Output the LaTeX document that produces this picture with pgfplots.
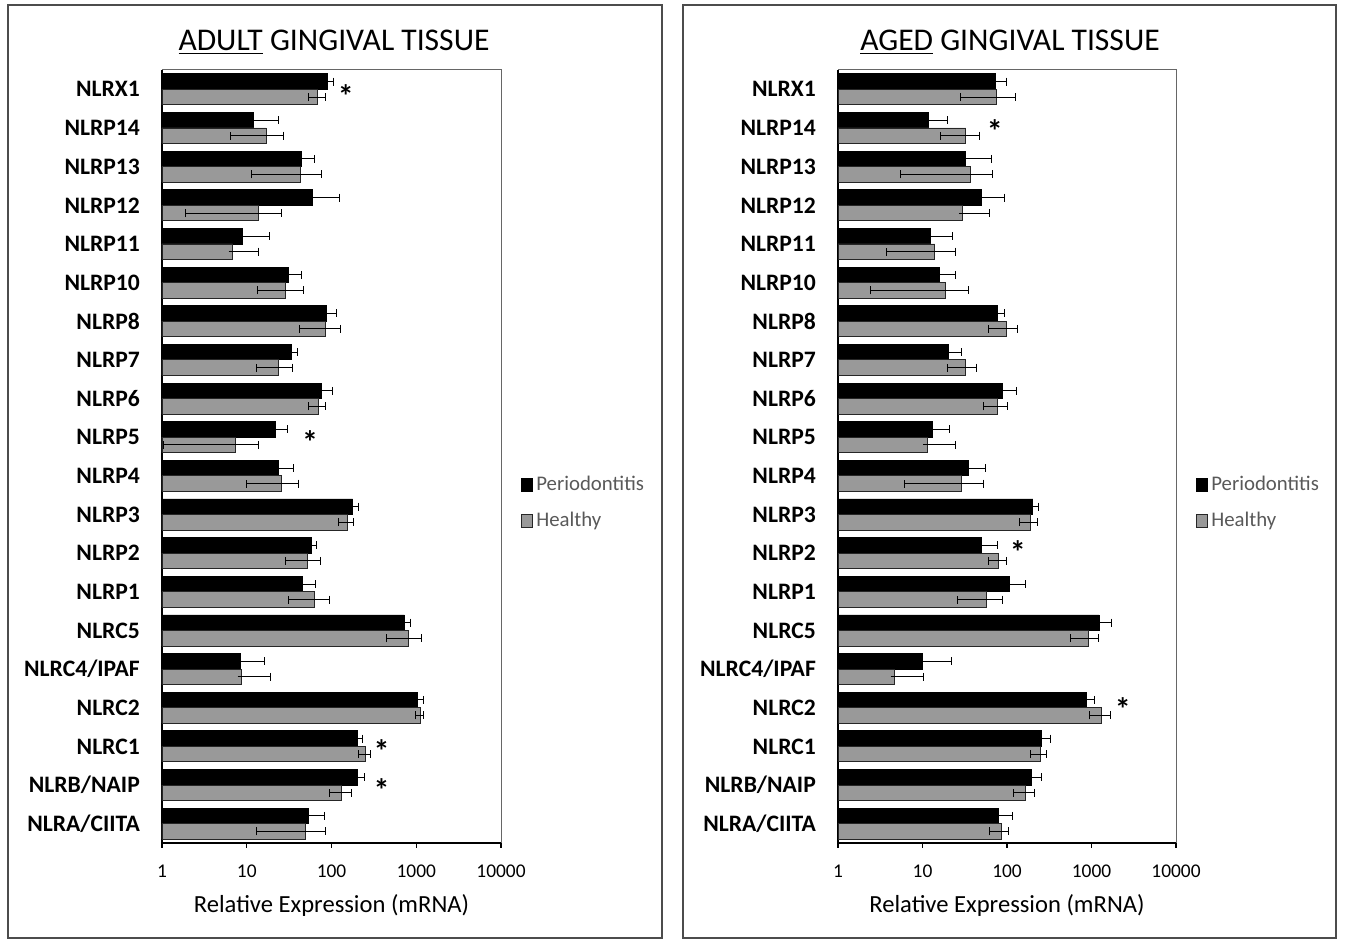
\documentclass[border=0pt]{standalone}
\usepackage{fontspec}
\setmainfont{Carlito}
\usepackage{pgfplots}
\usepackage{pgfplotstable}
\pgfplotsset{compat=1.18}

% idx 0 = NLRA/CIITA (bottom) ... 19 = NLRX1 (top)
\pgfplotstableread{
idx P Pe H Hp Hm
0 54 28 49 37 36
1 203 42 131 42 37
2 203 28 250 41 44
3 1035 198 1110 123 122
4 8.5 7.6 8.7 10.5 0
5 722 127 802 362 354
6 44.8 20 62 32 31
7 58.6 8.7 52 22 23
8 177 33 154 27 32
9 23.6 12.3 25.4 15.9 15.4
10 22 8.5 7.4 6.4 6.35
11 76.5 27 69.7 15.3 16.4
12 33.5 5.9 23.6 11.5 10.7
13 87 27 85 43 43
14 30.9 12.9 28.8 17.6 15.4
15 8.9 9.6 6.8 7 0
16 60 65 13.8 12.2 11.9
17 43.8 20 43 32.7 31.5
18 12 11.4 16.9 10 10.5
19 90 16 69 15 16
}\adult

\pgfplotstableread{
idx P Pe H Hp Hm
0 79.2 37 85 18.6 23
1 195 60 165 44 46
2 258 68 246 51 56
3 879 220 1324 368 370
4 10 11.9 4.68 5.5 0
5 1234 500 910 310 353
6 107 58 57.7 31.3 31.9
7 50.2 26.2 80 18.9 20.2
8 202 36 188 44 46
9 35.3 21.1 29 23 22.8
10 13.1 7.5 11.4 13.5 0
11 87.9 40 77.3 22.7 25.3
12 20.4 8.9 32.2 11.9 12.3
13 77.3 15.9 98.9 35 38.4
14 16 8.6 18.6 16.7 16.2
15 12.3 10.1 14 10.6 10.3
16 50.2 44 30 31.9 0
17 31.8 34.6 36.6 31.4 31.1
18 11.8 8.1 32.6 15.3 16.1
19 72 27 74.7 50 46.7
}\aged

\definecolor{hgray}{RGB}{153,153,153}

\begin{document}
\begin{tikzpicture}
\useasboundingbox[fill=white] (0,0) rectangle (672.5pt,-470.5pt);
\draw[line width=0.8pt, black!70] (4pt,-2.5pt) rectangle (331pt,-469pt);
\draw[line width=0.8pt, black!70] (341.5pt,-2.5pt) rectangle (668pt,-469pt);

\node[font=\fontsize{15.8}{16}\selectfont] at (167pt,-21.3pt) {\underline{ADULT} GINGIVAL TISSUE};
\node[font=\fontsize{15.8}{16}\selectfont] at (505pt,-21.3pt) {\underline{AGED} GINGIVAL TISSUE};

% ---------------- ADULT ----------------
\begin{axis}[
    at={(81pt,-421.5pt)}, anchor=south west,
    scale only axis, width=169.5pt, height=386.5pt,
    xmode=log, xmin=1, xmax=10000,
    ymin=-0.5, ymax=19.5,
    xtick={1,10,100,1000,10000},
    xticklabels={1,10,100,1000,10000},
    ytick={0,...,19},
    yticklabels={NLRA/CIITA,NLRB/NAIP,NLRC1,NLRC2,NLRC4/IPAF,NLRC5,NLRP1,NLRP2,NLRP3,NLRP4,NLRP5,NLRP6,NLRP7,NLRP8,NLRP10,NLRP11,NLRP12,NLRP13,NLRP14,NLRX1},
    axis x line*=bottom, axis y line*=left,
    axis line style={black, line width=0.7pt},
    xtick align=outside, major tick length=2.4pt,
    x tick style={black, line width=0.6pt},
    minor x tick style={draw=none},
    y tick style={draw=none},
    xticklabel style={font=\fontsize{9.7}{10}\selectfont, yshift=-5pt},
    yticklabel style={font=\bfseries\fontsize{11.8}{12}\selectfont, inner sep=0pt, anchor=east, xshift=-8.5pt},
    xlabel={Relative Expression (mRNA)},
    xlabel style={font=\fontsize{12.3}{13}\selectfont, at={(axis description cs:0.5,-0.0802)}, anchor=center},
    xbar, bar width=7.75pt,
    clip=false,
    legend style={at={(rel axis cs:1.04,0.44)}, anchor=west, draw=none, fill=none,
      font=\fontsize{10.4}{11}\selectfont, text=black!65, row sep=6pt,
      nodes={inner sep=1.8pt}, legend cell align=left},
    legend image code/.code={\draw[#1] (0pt,-3.2pt) rectangle (5.5pt,3.2pt);},
  ]
\addplot[fill=black, draw=black, line width=0.4pt, bar shift=3.875pt,
    error bars/.cd, x dir=plus, x explicit, error mark=|,
    error bar style={black, line width=0.5pt},
    error mark options={black, line width=0.5pt, mark size=2pt}]
    table[x=P, y=idx, x error plus=Pe] {\adult};
\addplot[fill=hgray, draw=black!85, line width=0.4pt, bar shift=-3.875pt,
    error bars/.cd, x dir=both, x explicit, error mark=|,
    error bar style={black, line width=0.5pt},
    error mark options={black, line width=0.5pt, mark size=2pt}]
    table[x=H, y=idx, x error plus=Hp, x error minus=Hm] {\adult};
\legend{Periodontitis, Healthy}
\draw[black!60, line width=0.5pt] (rel axis cs:0,1) -- (rel axis cs:1,1) -- (rel axis cs:1,0);
\node[font=\bfseries\fontsize{16}{16}\selectfont, yshift=-2.5pt] at (axis cs:148,18.95) {*};
\node[font=\bfseries\fontsize{16}{16}\selectfont, yshift=-2.5pt] at (axis cs:56,10) {*};
\node[font=\bfseries\fontsize{16}{16}\selectfont, yshift=-2.5pt] at (axis cs:390,2) {*};
\node[font=\bfseries\fontsize{16}{16}\selectfont, yshift=-2.5pt] at (axis cs:390,1) {*};
\end{axis}

% ---------------- AGED ----------------
\begin{axis}[
    at={(419pt,-421.5pt)}, anchor=south west,
    scale only axis, width=169pt, height=386.5pt,
    xmode=log, xmin=1, xmax=10000,
    ymin=-0.5, ymax=19.5,
    xtick={1,10,100,1000,10000},
    xticklabels={1,10,100,1000,10000},
    ytick={0,...,19},
    yticklabels={NLRA/CIITA,NLRB/NAIP,NLRC1,NLRC2,NLRC4/IPAF,NLRC5,NLRP1,NLRP2,NLRP3,NLRP4,NLRP5,NLRP6,NLRP7,NLRP8,NLRP10,NLRP11,NLRP12,NLRP13,NLRP14,NLRX1},
    axis x line*=bottom, axis y line*=left,
    axis line style={black, line width=0.7pt},
    xtick align=outside, major tick length=2.4pt,
    x tick style={black, line width=0.6pt},
    minor x tick style={draw=none},
    y tick style={draw=none},
    xticklabel style={font=\fontsize{9.7}{10}\selectfont, yshift=-5pt},
    yticklabel style={font=\bfseries\fontsize{11.8}{12}\selectfont, inner sep=0pt, anchor=east, xshift=-8.5pt},
    xlabel={Relative Expression (mRNA)},
    xlabel style={font=\fontsize{12.3}{13}\selectfont, at={(axis description cs:0.5,-0.0802)}, anchor=center},
    xbar, bar width=7.75pt,
    clip=false,
    legend style={at={(rel axis cs:1.04,0.44)}, anchor=west, draw=none, fill=none,
      font=\fontsize{10.4}{11}\selectfont, text=black!65, row sep=6pt,
      nodes={inner sep=1.8pt}, legend cell align=left},
    legend image code/.code={\draw[#1] (0pt,-3.2pt) rectangle (5.5pt,3.2pt);},
  ]
\addplot[fill=black, draw=black, line width=0.4pt, bar shift=3.875pt,
    error bars/.cd, x dir=plus, x explicit, error mark=|,
    error bar style={black, line width=0.5pt},
    error mark options={black, line width=0.5pt, mark size=2pt}]
    table[x=P, y=idx, x error plus=Pe] {\aged};
\addplot[fill=hgray, draw=black!85, line width=0.4pt, bar shift=-3.875pt,
    error bars/.cd, x dir=both, x explicit, error mark=|,
    error bar style={black, line width=0.5pt},
    error mark options={black, line width=0.5pt, mark size=2pt}]
    table[x=H, y=idx, x error plus=Hp, x error minus=Hm] {\aged};
\legend{Periodontitis, Healthy}
\draw[black!60, line width=0.5pt] (rel axis cs:0,1) -- (rel axis cs:1,1) -- (rel axis cs:1,0);
\node[font=\bfseries\fontsize{16}{16}\selectfont, yshift=-2.5pt] at (axis cs:72,18.04) {*};
\node[font=\bfseries\fontsize{16}{16}\selectfont, yshift=-2.5pt] at (axis cs:134,7.15) {*};
\node[font=\bfseries\fontsize{16}{16}\selectfont, yshift=-2.5pt] at (axis cs:2348,3.1) {*};
\end{axis}
\end{tikzpicture}
\end{document}
